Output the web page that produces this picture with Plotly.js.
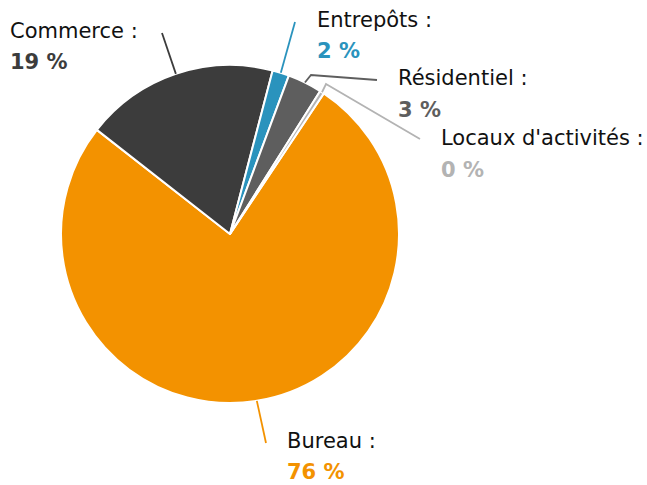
<!DOCTYPE html>
<html><head><meta charset="utf-8">
<script src="https://cdn.plot.ly/plotly-3.0.1.min.js"></script>
<style>html,body{margin:0;padding:0;background:#fff}#chart{width:647px;height:485px}</style>
</head><body><div id="chart"></div>
<script>
// Data
var categories = ["Bureau", "Commerce", "Entrepôts", "Résidentiel", "Locaux d'activités"];
var values = [76.2, 18.5, 1.6, 3.3, 0.4];
var colors = ["#f39200", "#3c3c3c", "#2a93bd", "#5e5e5e", "#b3b3b3"];
var percentLabels = values.map(function(v){ return Math.round(v) + " %"; });

var W = 647, H = 485;
var cx = 230, cy = 234, R = 169;
var rotation = 33.7;
function px(x){ return x / W; }
function py(y){ return 1 - y / H; }

// label layout (pixel positions of the text blocks)
var labelPos = [
  {x: 287, y1: 441, y2: 472},  // Bureau
  {x: 10,  y1: 31,  y2: 62},   // Commerce
  {x: 317, y1: 20,  y2: 51},   // Entrepôts
  {x: 398, y1: 78,  y2: 110},  // Résidentiel
  {x: 441, y1: 138, y2: 170}   // Locaux
];
// leader line routes (after anchor on the pie edge)
var routes = [
  [[266, 443]],
  [[162, 33]],
  [[295, 22]],
  [[311, 75], [377, 80]],
  [[326, 84], [420, 139]]
];

var total = values.reduce(function(a,b){return a+b;}, 0);
var shapes = [], annotations = [];
var cum = 0;
values.forEach(function(v, i){
  var mid = (rotation + (cum + v/2) / total * 360) * Math.PI / 180;
  cum += v;
  var ax = cx + R * Math.sin(mid), ay = cy - R * Math.cos(mid);
  var pts = [[ax, ay]].concat(routes[i]);
  var path = pts.map(function(p, k){ return (k ? "L" : "M") + px(p[0]) + "," + py(p[1]); }).join(" ");
  shapes.push({type: "path", xref: "paper", yref: "paper", path: path,
    line: {color: colors[i], width: 1.8}});
  annotations.push({xref: "paper", yref: "paper", x: px(labelPos[i].x - 2), y: py(labelPos[i].y1),
    xanchor: "left", yanchor: "middle", showarrow: false, text: categories[i] + " :",
    font: {family: "DejaVu Sans", size: 21, color: "#111111"}});
  annotations.push({xref: "paper", yref: "paper", x: px(labelPos[i].x - 2), y: py(labelPos[i].y2),
    xanchor: "left", yanchor: "middle", showarrow: false, text: "<b>" + percentLabels[i] + "</b>",
    font: {family: "DejaVu Sans", size: 21, color: colors[i]}});
});

var trace = {
  type: "pie",
  labels: categories,
  values: values,
  sort: false,
  direction: "clockwise",
  rotation: rotation,
  textinfo: "none",
  hoverinfo: "label+percent",
  marker: {colors: colors, line: {color: "#ffffff", width: 2}},
  domain: {x: [px(cx - R), px(cx + R)], y: [py(cy + R), py(cy - R)]}
};

var layout = {
  width: W, height: H,
  margin: {l: 0, r: 0, t: 0, b: 0},
  showlegend: false,
  paper_bgcolor: "#ffffff",
  font: {family: "DejaVu Sans"},
  shapes: shapes,
  annotations: annotations
};
Plotly.newPlot("chart", [trace], layout, {displayModeBar: false, staticPlot: true});
</script></body></html>
